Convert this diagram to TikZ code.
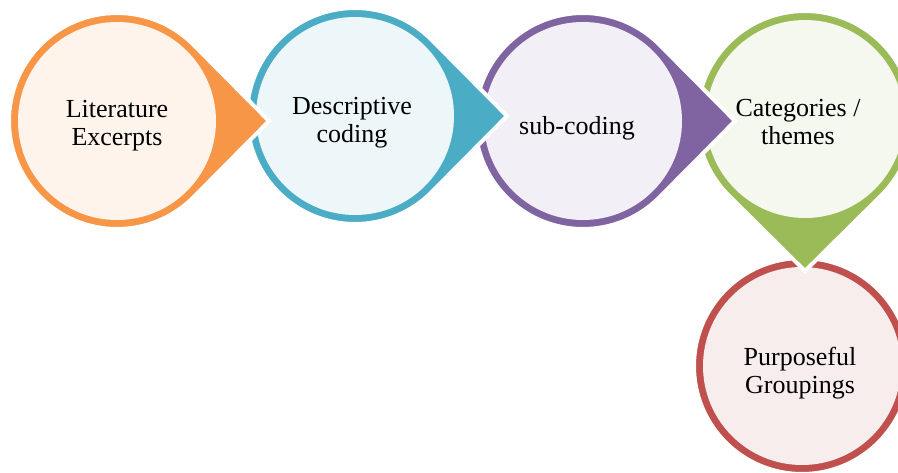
\documentclass[tikz,border=0pt]{standalone}
\usepackage{fontspec}
\setmainfont{Liberation Serif}
\usetikzlibrary{calc}
\definecolor{orangeC}{HTML}{F79646}
\definecolor{orangeF}{HTML}{FEF4EC}
\definecolor{tealC}{HTML}{4BACC6}
\definecolor{tealF}{HTML}{EDF6F9}
\definecolor{purpleC}{HTML}{8064A2}
\definecolor{purpleF}{HTML}{F2EFF6}
\definecolor{greenC}{HTML}{9BBB59}
\definecolor{greenF}{HTML}{F5F8EE}
\definecolor{redC}{HTML}{C0504D}
\definecolor{redF}{HTML}{F8EDED}
% #1 centre coordinate name, #2 pointing angle, #3 colour prefix
\newcommand\tdrop[3]{%
  \filldraw[fill=#3C, draw=white, line width=4pt]
    ($(#1)+(#2:152pt)$) -- ($(#1)+(#2+45:108pt)$)
    arc[start angle=#2+45, delta angle=270, radius=108pt] -- cycle;
  \fill[#3F] (#1) circle[radius=99pt];
}
\tikzset{lbl/.style={align=center, font=\fontsize{26}{28}\selectfont, inner sep=0pt}}
\begin{document}
\begin{tikzpicture}[x=1pt,y=1pt]
\useasboundingbox (0,0) rectangle (898,472);
\clip (0,0) rectangle (898,472);
\coordinate (c1) at (117,351);
\coordinate (c2) at (355,356);
\coordinate (c3) at (583,351);
\coordinate (c4) at (805,353);
\coordinate (c5) at (802,106);
% red circle (last, no point)
\filldraw[fill=redC, draw=white, line width=4pt] (c5) circle[radius=108pt];
\fill[redF] (c5) circle[radius=99pt];
\tdrop{c4}{-90}{green}
\tdrop{c3}{0}{purple}
\tdrop{c2}{0}{teal}
\tdrop{c1}{0}{orange}
\node[lbl] (t1) at (117,346) {Literature\\Excerpts};
\node[lbl] (t2) at (352,349) {Descriptive\\coding};
\node[lbl] (t3) at (577,344) {sub-coding};
\node[lbl] (t4) at (798,350) {Categories /\\themes};
\node[lbl] (t5) at (800,99) {Purposeful\\Groupings};
\end{tikzpicture}
\end{document}
